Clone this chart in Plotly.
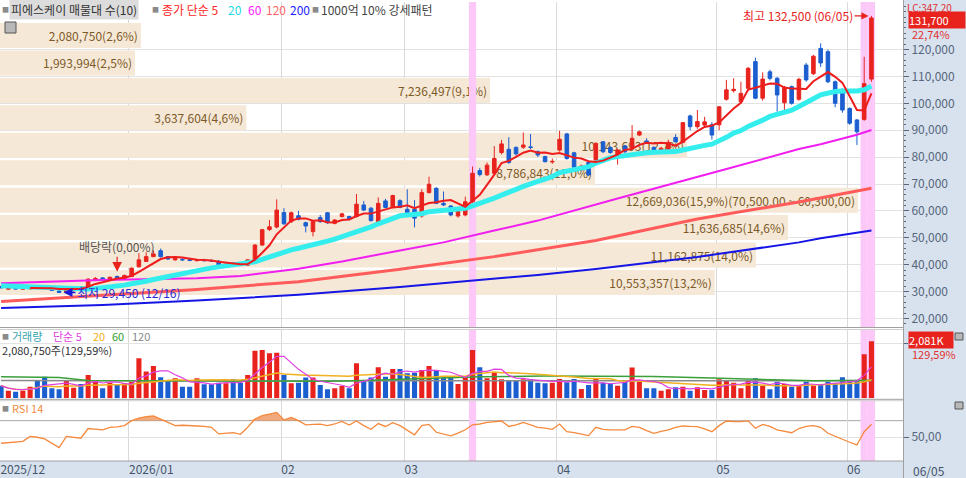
import pandas as pd
import plotly.graph_objects as go

# ---------------- data ----------------
holidays = ["2025-12-25", "2025-12-31", "2026-01-01", "2026-02-16", "2026-02-17", "2026-02-18",
            "2026-03-02", "2026-05-01", "2026-05-05", "2026-05-25", "2026-06-03"]
dates = [d.strftime("%Y-%m-%d") for d in pd.bdate_range("2025-12-04", "2026-06-05")
         if d.strftime("%Y-%m-%d") not in holidays]

open_ = [31900, 30900, 31200, 30900, 31000, 31900, 31800, 30900, 30200, 29800,
         30400, 31700, 31900, 34300, 35100, 34500, 35600, 34700, 35600, 39200,
         41200, 43000, 45200, 43000, 41800, 42000, 41800, 41500, 41600, 41500,
         41300, 39300, 40400, 40600, 39800, 41800, 47300, 53100, 54000, 59400,
         56000, 58200, 55600, 52300, 57500, 59300, 55400, 57900, 57900, 57900,
         62200, 61000, 56000, 63700, 61300, 63800, 60600, 60600, 58100, 66800,
         68400, 62800, 61800, 58100, 58500, 63400, 75000, 73400, 74000, 81700,
         82900, 83600, 83700, 83800, 82000, 80200, 78200, 82600, 88600, 81600,
         75200, 78000, 78900, 85700, 83600, 80800, 84100, 83300, 88200, 86000,
         83600, 82400, 82000, 87300, 85500, 95300, 91300, 91900, 92000, 92000,
         101500, 104700, 100600, 105600, 115500, 101900, 111700, 109300, 100200, 106200,
         101500, 114200, 111000, 120400, 119200, 108000, 105000, 98100, 93800, 94000,
         109000]
high = [32200, 31400, 31400, 31500, 32000, 32400, 32000, 31100, 30500, 31700,
        32000, 31900, 35000, 35400, 35400, 35600, 36000, 36300, 39000, 44300,
        44600, 45300, 46000, 43200, 42600, 42400, 42100, 42200, 42200, 42000,
        41700, 40500, 41000, 40900, 42000, 47600, 53300, 56600, 64300, 61000,
        59800, 60000, 56000, 56500, 58500, 59600, 57000, 59300, 58200, 66300,
        63700, 61500, 65000, 64500, 66000, 64300, 68000, 64000, 68100, 72700,
        68800, 67200, 62200, 61000, 65300, 76500, 76000, 78000, 84100, 86400,
        87400, 84000, 89100, 88600, 82500, 80500, 79500, 89800, 89000, 82000,
        77200, 78500, 85500, 86000, 84000, 83000, 84500, 91900, 89900, 87000,
        84000, 83800, 86500, 88500, 93000, 95800, 97500, 95000, 93000, 99000,
        108700, 109300, 108000, 113500, 117000, 111500, 112500, 109800, 106500, 106600,
        109500, 115000, 118000, 122300, 120000, 108500, 105500, 98500, 94200, 117300,
        132500]
low = [31200, 30700, 30900, 30800, 30900, 31500, 31200, 30300, 29450, 29600,
       30000, 31200, 31700, 34100, 34300, 34300, 34900, 34600, 35500, 39000,
       41000, 42800, 42700, 41800, 41500, 41500, 41300, 41200, 41200, 41100,
       38800, 39000, 39900, 39600, 39500, 41500, 47000, 52500, 53500, 54800,
       55500, 56500, 52000, 50500, 55600, 55200, 55000, 57500, 56500, 57500,
       60000, 56000, 55500, 61000, 61000, 61000, 59000, 53900, 57500, 66500,
       62500, 61800, 58000, 57500, 58000, 63000, 72800, 73000, 73600, 81000,
       77500, 80500, 83000, 83000, 80000, 78000, 77500, 82000, 79000, 75800,
       74800, 73000, 78000, 81500, 81200, 77200, 81500, 83000, 87800, 85000,
       81000, 81800, 81500, 85500, 85100, 90000, 90500, 91500, 86500, 90000,
       101000, 104000, 100000, 104500, 101500, 101000, 108500, 96900, 96300, 99500,
       101000, 108000, 110500, 113500, 107500, 98500, 96500, 92000, 84500, 93500,
       108000]
close = [31400, 31200, 31000, 31100, 31800, 31700, 31300, 30400, 29700, 31500,
         31800, 31500, 34600, 34900, 34500, 35300, 35000, 36000, 38700, 41800,
         43000, 44000, 43000, 42100, 42300, 41800, 41600, 41600, 41500, 41400,
         39300, 40200, 40100, 39900, 41800, 47300, 53000, 54100, 60300, 55200,
         59300, 56900, 54400, 56000, 56000, 55600, 56600, 58900, 56900, 62500,
         60300, 56400, 62800, 61300, 65700, 61300, 59300, 57300, 66800, 69900,
         62800, 62200, 58500, 60600, 63400, 74000, 73500, 77000, 79500, 84900,
         78000, 81200, 84500, 83600, 80800, 78300, 78400, 86600, 79500, 76200,
         76700, 73400, 85100, 82000, 81700, 82600, 82000, 87000, 89400, 85500,
         81400, 83300, 85500, 85700, 92800, 91300, 93200, 93100, 88200, 98700,
         105000, 105200, 103700, 113000, 101900, 109000, 109300, 103100, 105900, 100000,
         108900, 108700, 117500, 115000, 108000, 100000, 97500, 92600, 89400, 107300,
         131700]
volume = [462000, 280000, 243000, 280000, 426000, 633000, 791000, 365000, 329000, 669000,
          389000, 523000, 852000, 669000, 365000, 572000, 511000, 548000, 608000, 1460000,
          974000, 1180000, 767000, 633000, 730000, 426000, 426000, 730000, 511000, 511000,
          572000, 548000, 694000, 572000, 852000, 1740000, 1765000, 1643000, 1667000, 852000,
          548000, 572000, 755000, 755000, 487000, 329000, 365000, 450000, 365000, 1278000,
          645000, 755000, 1132000, 791000, 1071000, 1071000, 913000, 937000, 1034000, 1180000,
          1034000, 755000, 755000, 523000, 755000, 1765000, 1132000, 730000, 949000, 694000,
          669000, 645000, 694000, 694000, 572000, 548000, 572000, 706000, 584000, 706000,
          341000, 487000, 706000, 572000, 548000, 462000, 608000, 1120000, 608000, 365000,
          365000, 280000, 329000, 401000, 426000, 280000, 401000, 304000, 304000, 694000,
          645000, 572000, 365000, 633000, 730000, 462000, 329000, 608000, 523000, 426000,
          487000, 608000, 462000, 487000, 608000, 548000, 767000, 633000, 633000, 1605641,
          2080750]
rsi14 = [42.8, 43.5, 44.0, 45.0, 51.0, 50.0, 48.0, 43.0, 37.5, 51.0,
         50.0, 48.8, 60.5, 59.5, 59.0, 62.0, 62.5, 64.0, 70.0, 73.0,
         75.0, 75.6, 72.0, 68.0, 64.0, 64.5, 64.5, 63.6, 63.0, 62.0,
         54.0, 55.0, 55.5, 53.6, 62.0, 72.0, 76.0, 78.0, 80.0, 71.0,
         74.0, 70.0, 65.0, 65.5, 65.7, 64.0, 66.0, 69.0, 64.8, 69.6,
         64.0, 59.6, 66.5, 63.0, 67.6, 64.0, 58.8, 53.0, 64.0, 65.5,
         56.0, 54.0, 51.6, 55.0, 59.0, 65.0, 66.0, 68.0, 69.0, 69.6,
         63.0, 65.0, 68.0, 65.0, 62.0, 61.0, 59.6, 66.0, 56.7, 55.5,
         54.0, 52.0, 62.0, 59.5, 58.8, 58.8, 58.8, 63.0, 62.0, 58.0,
         54.8, 57.0, 58.8, 62.0, 63.6, 63.0, 62.8, 60.0, 56.7, 64.0,
         69.6, 69.0, 68.8, 69.8, 60.8, 65.5, 63.0, 58.8, 57.0, 55.5,
         60.5, 63.0, 64.0, 62.0, 54.8, 51.0, 48.0, 44.0, 40.7, 56.7,
         65.7]

# 20-day average for the first days (history before the window)
ma20_early = [32200, 32100, 31900, 31800, 31600, 31500, 31300, 31200, 31000, 30900,
              30900, 30900, 31000, 31200, 31400, 31700, 32000, 32400, 32900]
# long moving averages (candle index, value)
ma60_idx = [0, 14, 27, 33, 41, 47, 55, 61, 68, 74, 85, 96, 99, 110, 113, 118, 120]
ma60_val = [33100, 34300, 35000, 35800, 38500, 41200, 45300, 48300, 52700, 56400,
            64600, 72400, 74800, 83000, 84800, 88300, 90100]
ma120_idx = [0, 14, 27, 41, 55, 68, 74, 82, 96, 110, 120]
ma120_val = [26300, 28500, 30800, 33700, 38300, 43000, 45600, 49000, 57000, 63300, 68400]
ma200_idx = [0, 14, 27, 33, 41, 55, 68, 74, 82, 96, 110, 113, 120]
ma200_val = [23900, 25000, 26700, 27600, 28800, 31700, 34800, 36200, 38400, 42900,
             48300, 49800, 52700]
vma60_idx = [0, 8, 12, 30, 45, 50, 60, 66, 75, 90, 98, 105, 112, 120]
vma60_val = [790000, 760000, 650000, 635000, 625000, 650000, 740000, 790000, 810000,
             800000, 740000, 680000, 640000, 660000]
vma120_idx = [0, 30, 60, 90, 120]
vma120_val = [650000, 630000, 640000, 655000, 645000]

# volume profile (매물대, 10 price bins)
bin_low = [29700, 39900, 50100, 60300, 70500, 80700, 90900, 101100, 111300, 121500]
bin_high = [39900, 50100, 60300, 70500, 80700, 90900, 101100, 111300, 121500, 131700]
bin_vol = [10553357, 11162875, 11636685, 12669036, 8786843, 10143693, 3637604,
           7236497, 1993994, 2080750]
bin_pct = [13.2, 14.0, 14.6, 15.9, 11.0, 12.7, 4.6, 9.1, 2.5, 2.6]

pattern_days = ["2026-03-16", "2026-06-04", "2026-06-05"]   # 1000억 10% 강세패턴
price_ticks = [20000, 30000, 40000, 50000, 60000, 70000, 80000, 90000, 100000, 110000, 120000]

# ---------------- helpers ----------------
W, H = 966, 478
def pxx(x): return x / W
def pyy(y): return 1 - y / H

RED = "#e8231e"
BLUE = "#1b5ed0"
FONT = "Noto Sans CJK KR, Noto Sans, sans-serif"
AXC = "#56667c"
def dec(s): return s.replace(".", ",")

n = len(dates)
idx = list(range(n))
cs = pd.Series(close, dtype=float)
ma5 = cs.rolling(5).mean()
ma20_late = cs.rolling(20).mean().tolist()[19:]
ma20 = ma20_early + ma20_late
vs = pd.Series(volume, dtype=float)
vma5 = vs.rolling(5, min_periods=1).mean()
vma20 = vs.rolling(20, min_periods=1).mean()

# axis geometry (pixel -> value)
PLO, PHI = 16840, 137660
VHI = 2493000
RLO, RHI = 21.4, 94.9
XLO, XHI = -0.152, 124.35
XDOM = [0, 903 / W]

month_pos = [0] + [i for i in range(1, n) if dates[i][5:7] != dates[i - 1][5:7]]
month_txt = []
for k, p in enumerate(month_pos):
    d = dates[p]
    if k == 0 or d[:4] != dates[month_pos[k - 1]][:4]:
        month_txt.append(d[:4] + "/" + d[5:7])
    else:
        month_txt.append(d[5:7])
month_vals = [-0.1] + [p - 0.37 for p in month_pos[1:]]

fig = go.Figure()

# volume profile bars
labels = []
for lo, hi, v, pc in zip(bin_low, bin_high, bin_vol, bin_pct):
    s = f"{v:,}(" + dec(f"{pc:.1f}") + "%)"
    if v == max(bin_vol):
        s += "(" + dec(f"{hi:,.2f}") + " ~ " + dec(f"{lo:,.2f}") + ")"
    labels.append(s)
R = max(bin_vol) * 903 / 858
fig.add_trace(go.Bar(
    orientation="h", x=bin_vol, y=[(lo + hi) / 2 - 1400 for lo, hi in zip(bin_low, bin_high)],
    width=9300, marker=dict(color="#f6e8d6", line=dict(width=0)),
    text=labels, textposition="inside", insidetextanchor="end", constraintext="none",
    insidetextfont=dict(color="#7c5a28", size=12, family=FONT),
    xaxis="x", yaxis="y", hoverinfo="skip"))

# pattern highlight bands
pidx = [dates.index(d) for d in pattern_days]
for xa, ya, lo, hi in [("x2", "y", PLO, PHI), ("x3", "y2", 0, VHI), ("x4", "y3", RLO, RHI)]:
    fig.add_trace(go.Bar(x=pidx, y=[hi - lo] * len(pidx), base=lo, width=1.0,
                         marker=dict(color="#fbc8f8", line=dict(width=0)),
                         xaxis=xa, yaxis=ya, hoverinfo="skip"))

# candles
fig.add_trace(go.Candlestick(
    x=idx, open=open_, high=high, low=low, close=close, xaxis="x2", yaxis="y",
    increasing=dict(line=dict(color=RED, width=1), fillcolor=RED),
    decreasing=dict(line=dict(color=BLUE, width=1), fillcolor=BLUE),
    whiskerwidth=0, hoverinfo="skip"))

# price moving averages
fig.add_trace(go.Scatter(x=ma200_idx, y=ma200_val, mode="lines", line=dict(color="#1515e6", width=2), xaxis="x2", yaxis="y"))
fig.add_trace(go.Scatter(x=ma120_idx, y=ma120_val, mode="lines", line=dict(color="#ff5b5b", width=3), xaxis="x2", yaxis="y"))
fig.add_trace(go.Scatter(x=ma60_idx, y=ma60_val, mode="lines", line=dict(color="#f01ef0", width=2), xaxis="x2", yaxis="y"))
fig.add_trace(go.Scatter(x=idx, y=ma20, mode="lines", line=dict(color="#34eeee", width=5), xaxis="x2", yaxis="y"))
fig.add_trace(go.Scatter(x=idx, y=ma5, mode="lines", line=dict(color="#ee1c1c", width=2), xaxis="x2", yaxis="y"))

# volume
vcol = [RED if c >= o else BLUE for o, c in zip(open_, close)]
fig.add_trace(go.Bar(x=idx, y=volume, width=0.7, marker=dict(color=vcol, line=dict(width=0)),
                     xaxis="x3", yaxis="y2", hoverinfo="skip"))
fig.add_trace(go.Scatter(x=vma120_idx, y=vma120_val, mode="lines", line=dict(color="#8a8a8a", width=1.5), xaxis="x3", yaxis="y2"))
fig.add_trace(go.Scatter(x=vma60_idx, y=vma60_val, mode="lines", line=dict(color="#3aa03a", width=1.5), xaxis="x3", yaxis="y2"))
fig.add_trace(go.Scatter(x=idx, y=vma20, mode="lines", line=dict(color="#f0b020", width=1.5), xaxis="x3", yaxis="y2"))
fig.add_trace(go.Scatter(x=idx, y=vma5, mode="lines", line=dict(color="#e040e0", width=1.2), xaxis="x3", yaxis="y2"))

# RSI
fig.add_trace(go.Scatter(x=idx, y=[70] * n, mode="lines", line=dict(width=0), xaxis="x4", yaxis="y3", hoverinfo="skip"))
fig.add_trace(go.Scatter(x=idx, y=[max(r, 70) for r in rsi14], mode="lines", line=dict(width=0),
                         fill="tonexty", fillcolor="rgba(238,140,80,0.75)", xaxis="x4", yaxis="y3", hoverinfo="skip"))
fig.add_trace(go.Scatter(x=idx, y=rsi14, mode="lines", line=dict(color="#f5893c", width=1.3), xaxis="x4", yaxis="y3"))

# ---------------- layout ----------------
tickfont = dict(family=FONT, size=12, color=AXC)
xcommon = dict(domain=XDOM, range=[XLO, XHI], tickmode="array", tickvals=month_vals,
               showgrid=True, gridcolor="#dadada", gridwidth=1, zeroline=False, ticks="",
               fixedrange=True)
fig.update_layout(
    width=W, height=H, margin=dict(l=0, r=0, t=0, b=0),
    paper_bgcolor="white", plot_bgcolor="white", showlegend=False,
    barmode="overlay", boxgap=0.3, hovermode=False,
    font=dict(family=FONT, size=12),
    xaxis=dict(domain=XDOM, range=[0, R], visible=False, fixedrange=True),
    xaxis2=dict(overlaying="x", anchor="y", showticklabels=False,
                rangeslider=dict(visible=False), **xcommon),
    xaxis3=dict(anchor="y2", showticklabels=False, **xcommon),
    xaxis4=dict(anchor="y3", ticktext=month_txt, showticklabels=True,
                ticklabelposition="outside right", tickfont=dict(family=FONT, size=12, color="#44546a"),
                **xcommon),
    yaxis=dict(domain=[pyy(327), pyy(2)], range=[PLO, PHI], side="right", anchor="x",
               tickmode="array", tickvals=price_ticks, ticktext=[f"{v:,}" for v in price_ticks],
               ticks="outside", ticklen=5, tickcolor=AXC, tickfont=tickfont,
               minor=dict(tickmode="linear", tick0=0, dtick=2000, ticks="outside", ticklen=2, tickcolor=AXC, showgrid=False),
               showgrid=True, gridcolor="#e2e2e2", zeroline=False, fixedrange=True),
    yaxis2=dict(domain=[pyy(398.3), pyy(330)], range=[0, VHI], side="right", anchor="x3",
                tickmode="array", tickvals=[2000000], showticklabels=False,
                ticks="outside", ticklen=4, tickcolor=AXC,
                showgrid=True, gridcolor="#e2e2e2", zeroline=False, fixedrange=True),
    yaxis3=dict(domain=[pyy(461), pyy(400)], range=[RLO, RHI], side="right", anchor="x4",
                tickmode="array", tickvals=[50], ticktext=["50,00"], tickfont=tickfont,
                ticks="outside", ticklen=5, tickcolor=AXC,
                showgrid=True, gridcolor="#e2e2e2", zeroline=False, fixedrange=True),
)

shapes = [
    dict(type="rect", xref="paper", yref="paper", x0=pxx(903.5), x1=1, y0=0, y1=1,
         fillcolor="#d8e2ee", line=dict(width=0), layer="below"),
    dict(type="rect", xref="paper", yref="paper", x0=0, x1=1, y0=0, y1=pyy(461),
         fillcolor="#d8e2ee", line=dict(width=0), layer="below"),
    dict(type="line", xref="paper", yref="y3", x0=0, x1=pxx(903), y0=70, y1=70,
         line=dict(color="#a8a8a8", width=1), layer="below"),
]
for yy, c in [(327.5, "#a0a0a0"), (329.5, "#cfcfcf"), (399.3, "#a0a0a0"), (400.7, "#cfcfcf"), (461, "#a0a0a0")]:
    shapes.append(dict(type="line", xref="paper", yref="paper", x0=0, x1=pxx(903.5),
                       y0=pyy(yy), y1=pyy(yy), line=dict(color=c, width=1), layer="above"))
shapes.append(dict(type="line", xref="paper", yref="paper", x0=pxx(903.5), x1=pxx(903.5),
                   y0=0, y1=1, line=dict(color="#a0a0a0", width=1), layer="above"))
# small panel icons
for (x0, y0, x1, y1) in [(5, 22, 16, 33), (955, 333, 963, 340), (955, 402, 963, 409)]:
    shapes.append(dict(type="rect", xref="paper", yref="paper", x0=pxx(x0), x1=pxx(x1),
                       y0=pyy(y1), y1=pyy(y0), fillcolor="#b8b8b8",
                       line=dict(color="#555555", width=1), layer="above"))
fig.update_layout(shapes=shapes)

anns = []
def txt(s, x, y, color, size=12, **kw):
    d = dict(text=s, x=pxx(x), y=pyy(y), xref="paper", yref="paper", showarrow=False,
             xanchor="left", yanchor="middle", borderpad=0,
             font=dict(family=FONT, size=size, color=color))
    d.update(kw)
    anns.append(d)

# header legend
txt("■", 1, 9, "#8a8a8a", 7)
txt("피에스케이 매물대 수(10)", 9, 9, "#333333", 12, bgcolor="#dcdcdc", borderpad=1)
txt("■", 151, 9, "#8a8a8a", 7)
txt("종가 단순 5", 161, 9, "#ff2424")
txt("20", 227, 9, "#22d8e8")
txt("60", 247, 9, "#ff22ff")
txt("120", 265, 9, "#ff6464")
txt("200", 289, 9, "#2222ff")
txt("■", 311, 9, "#8a8a8a", 7)
txt("1000억 10% 강세패턴", 320, 9, "#444444")
# volume legend
txt("■", 1, 336, "#8a8a8a", 7)
txt("거래량", 11, 336, "#36a6ac", 11)
txt("단순 5", 52, 336, "#e040e0", 11)
txt("20", 92, 336, "#f0b020", 11)
txt("60", 111, 336, "#30a030", 11)
txt("120", 131, 336, "#888888", 11)
txt(f"{volume[-1]:,}주(" + dec(f"{volume[-1] / volume[-2] * 100:.2f}") + "%)", 1, 350, "#333333", 11)
# rsi legend
txt("■", 1, 408, "#8a8a8a", 7)
txt("RSI 14", 11, 408, "#f08a3c", 11)
# right side boxes
txt("LC:347,20", 906, 7.5, "#e03030", 10)
txt(f"{close[-1]:,}", 908, 20.5, "white", 11, bgcolor=RED, width=56, align="left")
txt(dec(f"{(close[-1] / close[-2] - 1) * 100:.2f}") + "%", 911, 33.5, "#e03030", 11)
txt(f"{round(volume[-1] / 1000):,}K", 908, 340, "white", 11, bgcolor=RED, width=44, align="left")
txt(dec(f"{volume[-1] / volume[-2] * 100:.2f}") + "%", 911, 354, "#e03030", 11)
txt(dates[-1][5:7] + "/" + dates[-1][8:10], 912, 470, "#44546a")

# price annotations
hi_i = high.index(max(high))
lo_i = low.index(min(low))
anns.append(dict(x=hi_i - 0.4, y=max(high), xref="x2", yref="y",
                 text=f"최고 {max(high):,} ({dates[hi_i][5:7]}/{dates[hi_i][8:10]})",
                 showarrow=True, ax=-14, ay=0, xanchor="right", yanchor="middle",
                 arrowhead=2, arrowsize=1.2, arrowwidth=1.2, arrowcolor=RED,
                 font=dict(family=FONT, size=12, color=RED)))
anns.append(dict(x=lo_i + 0.6, y=29700, xref="x2", yref="y",
                 text=f"최저 {min(low):,} ({dates[lo_i][5:7]}/{dates[lo_i][8:10]})",
                 showarrow=True, ax=12, ay=0, xanchor="left", yanchor="middle",
                 arrowhead=2, arrowsize=1.2, arrowwidth=1.5, arrowcolor="#1a1ad8",
                 font=dict(family=FONT, size=12, color="#2a2ad8")))
anns.append(dict(x=16, y=37400, xref="x2", yref="y", text="배당락(0,00%)",
                 showarrow=True, ax=0, ay=-25, arrowhead=2, arrowsize=1.6, arrowwidth=1.2,
                 arrowcolor=RED, font=dict(family=FONT, size=12, color="#555555")))
fig.update_layout(annotations=anns)

fig.write_html("out.html", config=dict(displayModeBar=False),
               post_script="document.body.style.margin='0px';document.body.style.overflow='hidden';")
